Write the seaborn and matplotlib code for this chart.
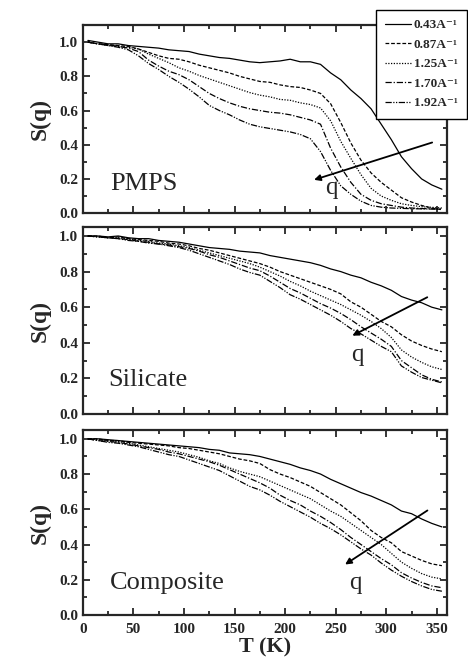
import pandas as pd
import matplotlib
matplotlib.use("Agg")
import matplotlib.pyplot as plt
from matplotlib.lines import Line2D
from matplotlib.ticker import MultipleLocator, FormatStrFormatter
import seaborn as sns

sns.set_style("ticks")
plt.rcParams["font.family"] = ["Liberation Serif", "DejaVu Serif"]
plt.rcParams["font.weight"] = "bold"

# temperature grid (K)
T = [5, 15, 25, 35, 45, 55, 65, 75, 85, 95, 105, 115, 125, 135, 145, 155, 165, 175,
     185, 195, 205, 215, 225, 235, 245, 255, 265, 275, 285, 295, 305, 315, 325, 335, 345, 355]

q_labels = ["0.43", "0.87", "1.25", "1.70", "1.92"]

# PMPS
pmps_043 = [1.01, 1.00, 0.99, 0.99, 0.98, 0.975, 0.97, 0.965, 0.955, 0.95, 0.945, 0.93, 0.92, 0.91, 0.905, 0.895,
            0.885, 0.88, 0.885, 0.89, 0.90, 0.885, 0.885, 0.87, 0.82, 0.78, 0.72, 0.67, 0.61, 0.52, 0.43, 0.33,
            0.26, 0.20, 0.165, 0.14]
pmps_087 = [1.00, 0.99, 0.985, 0.98, 0.975, 0.96, 0.94, 0.92, 0.905, 0.90, 0.885, 0.865, 0.85, 0.835, 0.82, 0.80,
            0.785, 0.77, 0.765, 0.75, 0.74, 0.735, 0.72, 0.70, 0.64, 0.53, 0.41, 0.31, 0.235, 0.18, 0.135, 0.09,
            0.065, 0.045, 0.03, 0.02]
pmps_125 = [1.00, 0.99, 0.98, 0.975, 0.97, 0.96, 0.93, 0.905, 0.88, 0.85, 0.83, 0.805, 0.785, 0.765, 0.745, 0.725,
            0.705, 0.69, 0.68, 0.665, 0.66, 0.645, 0.635, 0.615, 0.54, 0.42, 0.32, 0.225, 0.145, 0.10, 0.075, 0.055,
            0.045, 0.038, 0.034, 0.03]
pmps_170 = [1.00, 0.99, 0.985, 0.975, 0.965, 0.945, 0.895, 0.86, 0.83, 0.81, 0.78, 0.74, 0.70, 0.67, 0.645, 0.625,
            0.61, 0.60, 0.59, 0.585, 0.575, 0.56, 0.545, 0.52, 0.38, 0.27, 0.18, 0.11, 0.075, 0.055, 0.045, 0.035,
            0.03, 0.027, 0.025, 0.024]
pmps_192 = [1.00, 0.99, 0.98, 0.97, 0.955, 0.92, 0.875, 0.84, 0.80, 0.765, 0.725, 0.68, 0.63, 0.60, 0.575, 0.545,
            0.52, 0.505, 0.495, 0.485, 0.475, 0.46, 0.435, 0.36, 0.25, 0.16, 0.11, 0.07, 0.045, 0.035, 0.03, 0.028,
            0.026, 0.025, 0.024, 0.024]

# Silicate
sil_043 = [1.00, 1.00, 0.995, 1.00, 0.99, 0.985, 0.985, 0.975, 0.97, 0.965, 0.955, 0.945, 0.935, 0.93, 0.925, 0.915,
           0.91, 0.905, 0.89, 0.88, 0.87, 0.86, 0.85, 0.835, 0.815, 0.80, 0.78, 0.765, 0.74, 0.72, 0.695, 0.66,
           0.64, 0.625, 0.60, 0.585]
sil_087 = [1.00, 1.00, 0.99, 0.995, 0.985, 0.98, 0.975, 0.97, 0.96, 0.955, 0.945, 0.93, 0.92, 0.905, 0.89, 0.875,
           0.86, 0.845, 0.825, 0.80, 0.78, 0.76, 0.74, 0.72, 0.70, 0.675, 0.63, 0.60, 0.56, 0.52, 0.49, 0.445,
           0.41, 0.385, 0.365, 0.35]
sil_125 = [1.00, 0.995, 0.99, 0.99, 0.985, 0.975, 0.97, 0.96, 0.955, 0.945, 0.935, 0.92, 0.905, 0.89, 0.875, 0.86,
           0.845, 0.825, 0.80, 0.775, 0.745, 0.72, 0.69, 0.665, 0.64, 0.615, 0.585, 0.555, 0.52, 0.48, 0.43, 0.36,
           0.32, 0.29, 0.265, 0.25]
sil_170 = [1.00, 0.995, 0.99, 0.985, 0.98, 0.97, 0.965, 0.955, 0.95, 0.94, 0.93, 0.915, 0.895, 0.88, 0.86, 0.84,
           0.82, 0.805, 0.775, 0.74, 0.705, 0.68, 0.65, 0.62, 0.595, 0.565, 0.53, 0.49, 0.455, 0.42, 0.38, 0.30,
           0.26, 0.22, 0.195, 0.18]
sil_192 = [1.00, 0.995, 0.99, 0.985, 0.975, 0.97, 0.96, 0.955, 0.945, 0.935, 0.92, 0.90, 0.88, 0.86, 0.84, 0.815,
           0.795, 0.78, 0.745, 0.71, 0.67, 0.645, 0.615, 0.585, 0.555, 0.52, 0.48, 0.45, 0.415, 0.38, 0.35, 0.27,
           0.235, 0.205, 0.19, 0.175]

# Composite
comp_043 = [1.00, 1.00, 0.995, 0.99, 0.985, 0.98, 0.975, 0.97, 0.965, 0.96, 0.955, 0.95, 0.94, 0.935, 0.92, 0.915,
            0.91, 0.90, 0.885, 0.87, 0.855, 0.835, 0.82, 0.80, 0.77, 0.745, 0.72, 0.695, 0.675, 0.65, 0.625, 0.59,
            0.575, 0.545, 0.52, 0.50]
comp_087 = [1.00, 1.00, 0.99, 0.99, 0.98, 0.975, 0.97, 0.965, 0.96, 0.95, 0.945, 0.935, 0.925, 0.915, 0.90, 0.885,
            0.875, 0.86, 0.825, 0.80, 0.78, 0.755, 0.73, 0.695, 0.66, 0.625, 0.58, 0.535, 0.48, 0.44, 0.41, 0.36,
            0.335, 0.31, 0.29, 0.28]
comp_125 = [1.00, 0.995, 0.99, 0.985, 0.975, 0.965, 0.955, 0.945, 0.935, 0.925, 0.91, 0.895, 0.875, 0.86, 0.835, 0.815,
            0.80, 0.785, 0.76, 0.735, 0.71, 0.685, 0.66, 0.625, 0.59, 0.56, 0.52, 0.48, 0.44, 0.40, 0.35, 0.30,
            0.265, 0.235, 0.215, 0.205]
comp_170 = [1.00, 0.99, 0.985, 0.98, 0.97, 0.96, 0.95, 0.94, 0.925, 0.915, 0.90, 0.885, 0.87, 0.85, 0.825, 0.80,
            0.775, 0.75, 0.72, 0.68, 0.65, 0.625, 0.59, 0.56, 0.525, 0.485, 0.44, 0.40, 0.36, 0.32, 0.285, 0.24,
            0.21, 0.185, 0.165, 0.155]
comp_192 = [1.00, 0.99, 0.98, 0.975, 0.965, 0.955, 0.94, 0.925, 0.91, 0.90, 0.88, 0.86, 0.84, 0.82, 0.79, 0.76,
            0.73, 0.71, 0.68, 0.645, 0.615, 0.585, 0.555, 0.52, 0.49, 0.455, 0.415, 0.375, 0.34, 0.295, 0.255, 0.22,
            0.19, 0.165, 0.145, 0.135]

samples = {
    "PMPS": [pmps_043, pmps_087, pmps_125, pmps_170, pmps_192],
    "Silicate": [sil_043, sil_087, sil_125, sil_170, sil_192],
    "Composite": [comp_043, comp_087, comp_125, comp_170, comp_192],
}

# line style per q
dashes = {"0.43": "", "0.87": (3, 1.5), "1.25": (1, 1.2), "1.70": (5, 1.5, 1, 1.5),
          "1.92": (5, 1.2, 1, 1.2, 1, 1.2)}

# sample label, arrow and q label positions in data units
annot = {
    "PMPS": dict(ylim=1.1, name=(27, 0.134), tail=(348, 0.418), head=(226, 0.19), q=(246, 0.11)),
    "Silicate": dict(ylim=1.05, name=(25, 0.157), tail=(343, 0.663), head=(264, 0.433), q=(271, 0.30)),
    "Composite": dict(ylim=1.05, name=(27, 0.148), tail=(343, 0.602), head=(257, 0.278), q=(269, 0.148)),
}

fig = plt.figure(figsize=(4.68, 6.64), dpi=100)
boxes = [(0.177, 0.679, 0.778, 0.2833), (0.177, 0.3765, 0.778, 0.2815), (0.177, 0.0738, 0.778, 0.2786)]

for (name, curves), box in zip(samples.items(), boxes):
    ax = fig.add_axes(box)
    rows = []
    for q, vals in zip(q_labels, curves):
        for t, s in zip(T, vals):
            rows.append({"T": t, "S": s, "q": q})
    df = pd.DataFrame(rows)
    sns.lineplot(data=df, x="T", y="S", style="q", dashes=dashes, color="black",
                 linewidth=0.9, legend=False, ax=ax)
    a = annot[name]
    ax.set_xlim(0, 360)
    ax.set_ylim(0, a["ylim"])
    ax.xaxis.set_major_locator(MultipleLocator(50))
    ax.xaxis.set_minor_locator(MultipleLocator(25))
    ax.yaxis.set_major_locator(MultipleLocator(0.2))
    ax.yaxis.set_minor_locator(MultipleLocator(0.1))
    ax.yaxis.set_major_formatter(FormatStrFormatter("%.1f"))
    ax.tick_params(which="both", direction="in", top=True, right=True, width=1.3, labelsize=11)
    ax.tick_params(which="major", length=5)
    ax.tick_params(which="minor", length=3)
    ax.tick_params(axis="x", pad=6)
    for sp in ax.spines.values():
        sp.set_linewidth(1.6)
    ax.set_ylabel("S(q)", fontsize=17, fontweight="bold", labelpad=6)
    if name == "Composite":
        ax.set_xlabel("T (K)", fontsize=16, fontweight="bold", labelpad=1)
    else:
        ax.set_xlabel("")
        ax.set_xticklabels([])
    for lab in ax.get_xticklabels() + ax.get_yticklabels():
        lab.set_fontweight("bold")
    ax.text(a["name"][0], a["name"][1], name, fontsize=19, fontweight="normal", va="baseline")
    ax.annotate("", xy=a["head"], xytext=a["tail"],
                arrowprops=dict(arrowstyle="-|>", color="black", lw=1.3, mutation_scale=9))
    ax.text(a["q"][0], a["q"][1], "q", fontsize=18, fontweight="normal", ha="center", va="baseline")

handles = [Line2D([0], [0], color="black", lw=0.9,
                  linestyle="-" if dashes[q] == "" else (0, dashes[q])) for q in q_labels]
labels = [q + "A\u207b\u00b9" for q in q_labels]
leg = fig.legend(handles, labels, loc="upper right", bbox_to_anchor=(0.998, 0.985),
                 borderaxespad=0, frameon=True, fancybox=False, edgecolor="black", framealpha=1,
                 handlelength=2.0, handletextpad=0.2, labelspacing=0.55,
                 borderpad=0.7, prop={"weight": "bold", "size": 9.5})
leg.get_frame().set_linewidth(1.0)

fig.savefig("out.png", dpi=100)
